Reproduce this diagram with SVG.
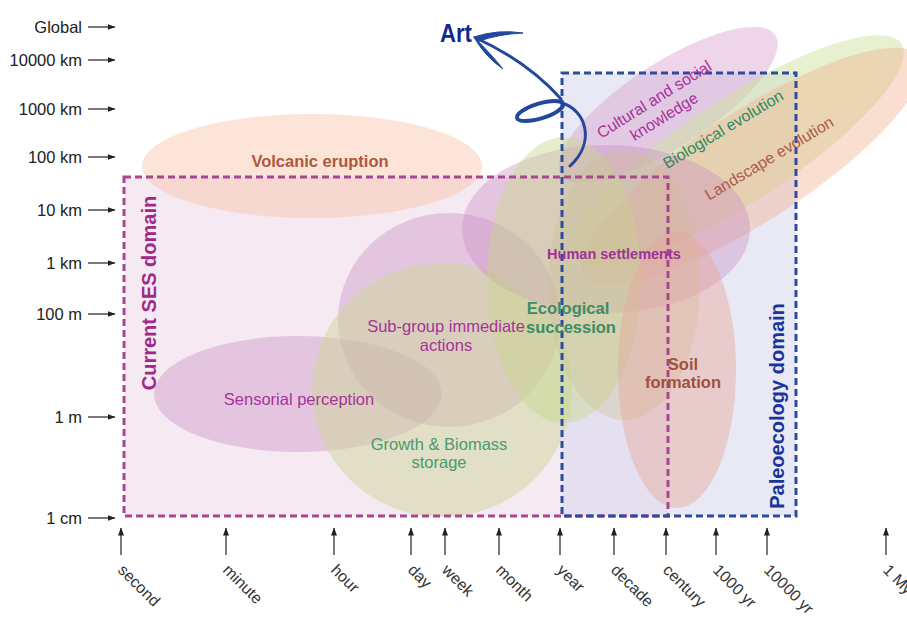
<svg xmlns="http://www.w3.org/2000/svg" width="907" height="619" viewBox="0 0 907 619">
<defs>
<marker id="ah" viewBox="0 0 8 6" refX="7.5" refY="3" markerWidth="8" markerHeight="6" markerUnits="userSpaceOnUse" orient="auto">
<path d="M0,0 L8,3 L0,6 Z" fill="#222"/>
</marker>
<style>
.ax{stroke:#222;stroke-width:1.2;fill:none;marker-end:url(#ah)}
.yl{font-family:"Liberation Sans",Arial,sans-serif;font-size:16.5px;fill:#222;text-anchor:end}
.xl{font-family:"Liberation Sans",Arial,sans-serif;font-size:16px;fill:#333}
.t{font-family:"Liberation Sans",Arial,sans-serif;font-size:16.5px;text-anchor:middle}
.b{font-weight:bold}
.pur{fill:#c98cc0;opacity:0.38}
.grn{fill:#cdd79a;opacity:0.5}
.dash{fill:none;stroke-width:3;stroke-dasharray:7,4}
</style>
</defs>
<rect width="907" height="619" fill="#ffffff"/>

<g id="ses-domain-fill">
<rect x="124" y="177" width="544" height="339" fill="#f5e9f2"/>
</g>
<g id="paleo-domain-fill">
<rect x="562" y="73" width="234" height="443" fill="#d8daee" opacity="0.6"/>
</g>

<g id="volcanic-eruption">
<ellipse cx="312" cy="166" rx="170" ry="52" fill="#f9c4a8" opacity="0.45"/>
</g>
<g id="cultural-knowledge">
<ellipse cx="668" cy="105" rx="128" ry="42" transform="rotate(-33 668 105)" fill="#d9a2cf" opacity="0.45"/>
</g>
<g id="biological-evolution">
<ellipse cx="738" cy="150" rx="195" ry="52" transform="rotate(-33 738 150)" fill="#cfe3a0" opacity="0.5"/>
</g>
<g id="landscape-evolution">
<ellipse cx="752" cy="166" rx="200" ry="55" transform="rotate(-33 752 166)" fill="#f3b08c" opacity="0.4"/>
</g>
<g id="sensorial-perception">
<ellipse class="pur" cx="298" cy="394" rx="144" ry="58"/>
</g>
<g id="sub-group-actions">
<ellipse class="pur" cx="449" cy="320" rx="111" ry="107"/>
</g>
<g id="growth-biomass">
<ellipse class="grn" cx="442" cy="390" rx="130" ry="127"/>
</g>
<g id="human-settlements">
<ellipse class="pur" cx="606" cy="229" rx="144" ry="84"/>
</g>
<g id="ecological-succession">
<ellipse cx="564" cy="280" rx="77" ry="143" fill="#c8d68c" opacity="0.45"/>
<ellipse cx="624" cy="285" rx="76" ry="135" fill="#cdbf90" opacity="0.35"/>
</g>
<g id="soil-formation">
<ellipse cx="677" cy="370" rx="59" ry="138" fill="#e6a898" opacity="0.45"/>
</g>

<g id="ses-domain-border">
<rect class="dash" x="124" y="177" width="544" height="339" stroke="#a8478f"/>
</g>
<g id="paleo-domain-border">
<rect class="dash" x="562" y="73" width="234" height="443" stroke="#2b4c9f"/>
</g>

<g id="art-arrow" fill="none" stroke="#22479c" stroke-linecap="round">
<path d="M561,99 Q528,62 476,38" stroke-width="3"/>
<ellipse cx="540" cy="111" rx="24" ry="7.5" transform="rotate(-17 540 111)" stroke-width="4"/>
<path d="M562,103 C586,110 596,142 570,166" stroke-width="3"/>
<path d="M474,37 Q498,29 523,33 Q500,34 479,41 Z" fill="#22479c" stroke-width="1"/>
<path d="M474,37 Q491,54 503,69 Q486,57 477,42 Z" fill="#22479c" stroke-width="1"/>
</g>

<g id="y-axis">
<path class="ax" d="M88,27 H115"/>
<path class="ax" d="M88,60 H115"/>
<path class="ax" d="M88,109 H115"/>
<path class="ax" d="M88,157 H115"/>
<path class="ax" d="M88,210 H115"/>
<path class="ax" d="M88,263 H115"/>
<path class="ax" d="M88,314 H115"/>
<path class="ax" d="M88,417 H115"/>
<path class="ax" d="M88,518 H115"/>
<text class="yl" x="82" y="33">Global</text>
<text class="yl" x="82" y="66">10000 km</text>
<text class="yl" x="82" y="115">1000 km</text>
<text class="yl" x="82" y="163">100 km</text>
<text class="yl" x="82" y="216">10 km</text>
<text class="yl" x="82" y="269">1 km</text>
<text class="yl" x="82" y="320">100 m</text>
<text class="yl" x="82" y="423">1 m</text>
<text class="yl" x="82" y="524">1 cm</text>
</g>

<g id="x-axis">
<path class="ax" d="M121,555 V528"/>
<path class="ax" d="M226,555 V528"/>
<path class="ax" d="M334,555 V528"/>
<path class="ax" d="M411,555 V528"/>
<path class="ax" d="M445,555 V528"/>
<path class="ax" d="M499,555 V528"/>
<path class="ax" d="M560,555 V528"/>
<path class="ax" d="M614,555 V528"/>
<path class="ax" d="M666,555 V528"/>
<path class="ax" d="M716,555 V528"/>
<path class="ax" d="M767,555 V528"/>
<path class="ax" d="M886,555 V528"/>
<text class="xl" transform="translate(117,571) rotate(45)">second</text>
<text class="xl" transform="translate(222,571) rotate(45)">minute</text>
<text class="xl" transform="translate(330,571) rotate(45)">hour</text>
<text class="xl" transform="translate(407,571) rotate(45)">day</text>
<text class="xl" transform="translate(441,571) rotate(45)">week</text>
<text class="xl" transform="translate(495,571) rotate(45)">month</text>
<text class="xl" transform="translate(556,571) rotate(45)">year</text>
<text class="xl" transform="translate(610,571) rotate(45)">decade</text>
<text class="xl" transform="translate(662,571) rotate(45)">century</text>
<text class="xl" transform="translate(712,571) rotate(45)">1000 yr</text>
<text class="xl" transform="translate(763,571) rotate(45)">10000 yr</text>
<text class="xl" transform="translate(882,571) rotate(45)">1 Myr</text>
</g>

<g id="labels">
<text class="t b" x="320" y="167" fill="#b0583e">Volcanic eruption</text>
<text class="t b" transform="translate(156,293) rotate(-90)" style="font-size:20px" fill="#a0288c">Current SES domain</text>
<text class="t" x="299" y="405" fill="#a8329a">Sensorial perception</text>
<text class="t" x="446" y="332" fill="#a8329a">Sub-group immediate</text>
<text class="t" x="446" y="351" fill="#a8329a">actions</text>
<text class="t" x="439" y="450" fill="#4a9a6e">Growth &amp; Biomass</text>
<text class="t" x="439" y="468" fill="#4a9a6e">storage</text>
<text class="t b" x="568" y="314" fill="#3d8c66">Ecological</text>
<text class="t b" x="571" y="333" fill="#3d8c66">succession</text>
<text class="t b" x="614" y="259" style="font-size:14.5px" fill="#a0309a">Human settlements</text>
<text class="t b" x="683" y="370" fill="#a0503e">Soil</text>
<text class="t b" x="683" y="388" fill="#a0503e">formation</text>
<text class="t b" transform="translate(784,406) rotate(-90)" style="font-size:20px" fill="#1a3598">Paleoecology domain</text>
<text class="t" transform="translate(657,104) rotate(-32)" style="font-size:16px" fill="#a8329a">Cultural and social</text>
<text class="t" transform="translate(667,121) rotate(-32)" style="font-size:16px" fill="#a8329a">knowledge</text>
<text class="t" transform="translate(726,134) rotate(-31)" style="font-size:16px" fill="#2e8a5e">Biological evolution</text>
<text class="t" transform="translate(772,163) rotate(-31)" style="font-size:16px" fill="#b05848">Landscape evolution</text>
<text class="b" x="440" y="42" textLength="32" lengthAdjust="spacingAndGlyphs" style="font-family:'Liberation Sans',Arial,sans-serif;font-size:25px" fill="#102a8c">Art</text>
</g>
</svg>
